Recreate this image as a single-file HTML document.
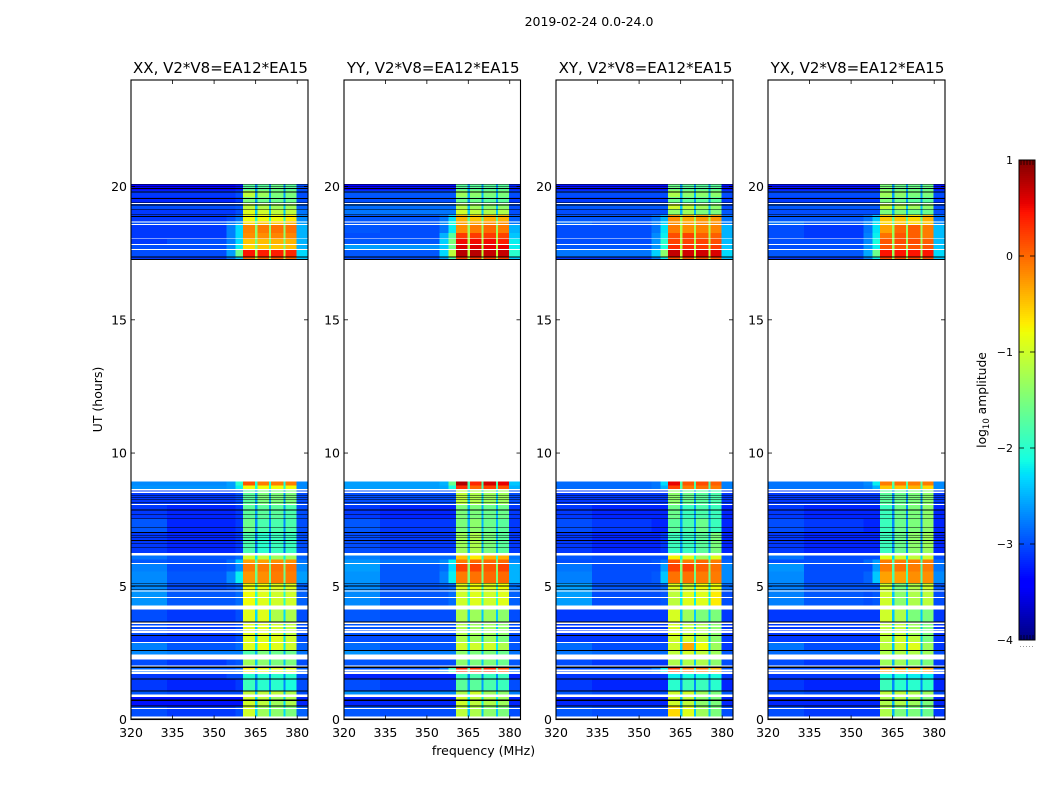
<!DOCTYPE html>
<html>
<head>
<meta charset="utf-8">
<title>2019-02-24 0.0-24.0</title>
<style>
html,body{margin:0;padding:0;background:#fff;}
svg{display:block;}
text{font-family:"DejaVu Sans","Liberation Sans",sans-serif;fill:#000;}
</style>
</head>
<body>
<svg id="figure-root" xmlns="http://www.w3.org/2000/svg" width="1050" height="800" viewBox="0 0 1050 800">
<rect x="0" y="0" width="1050" height="800" fill="#fff"/>
<text x="589" y="26" text-anchor="middle" font-size="12.5">2019-02-24 0.0-24.0</text>
<text x="483.5" y="755" text-anchor="middle" font-size="12.5">frequency (MHz)</text>
<text transform="translate(102,399.5) rotate(-90)" text-anchor="middle" font-size="12.5">UT (hours)</text>
<text transform="translate(986,400) rotate(-90)" text-anchor="middle" font-size="12.3">log<tspan font-size="8.5" dy="3">10</tspan><tspan dy="-3"> amplitude</tspan></text>
</svg>
<script>
const panelNames = ['XX','YY','XY','YX'];
const panelLefts = [131,344,556,768];
const panelRights = [308,520.5,733,945];
const titleSuffix = ', V2*V8=EA12*EA15';
const xTicks = [320,335,350,365,380];
const yTicks = [0,5,10,15,20];
const colorbarTickValues = [1,0,-1,-2,-3,-4];
const colorbarTickLabels = ['1','0','−1','−2','−3','−4'];

/* frequency column edges in MHz */
const colEdges = [320,333,354.5,357.8,360.5,364.8,365.7,369.8,370.5,375,375.8,379.8,383.9];
/* which level field each column uses: lowA lowB rampA rampB b1 gap b2 gap b3 gap b4 edge */
const colField = [0,1,2,3,4,9,5,9,6,9,7,8];

/* time bins in hours, [top, bottom] */
const timeBins = [
[20.10,19.85],[19.85,19.60],[19.60,19.40],[19.40,19.15],[19.15,18.95],[18.95,18.70],[18.70,18.56],
[18.56,18.25],[18.25,18.05],[18.05,17.82],[17.82,17.64],[17.64,17.36],[17.36,17.26],
[8.93,8.78],[8.78,8.65],[8.65,8.09],[8.09,7.55],[7.55,7.0],[7.0,6.25],[6.16,6.0],[6.0,5.85],
[5.85,5.55],[5.55,5.1],[5.1,4.8],[4.8,4.28],[4.13,3.68],[3.68,3.15],[3.15,2.87],[2.87,2.6],
[2.6,2.44],[2.25,2.0],[2.0,1.72],[1.72,1.52],[1.52,1.08],[1.08,0.93],[0.84,0.5],[0.5,0.115]
];

/* log10 amplitude, one row per time bin:
   lowA,lowB,rampA,rampB,block1,block2,block3,block4,edge,gap */
const levelsXX = [
[-3.4,-3.4,-3.4,-3.3,-1.7,-1.7,-1.6,-1.7,-3.0,-2.7],
[-3.1,-3.1,-3.1,-3.0,-1.1,-1.3,-1.5,-1.5,-3.0,-2.6],
[-3.2,-3.2,-3.2,-3.1,-1.5,-1.6,-1.6,-1.6,-3.0,-2.6],
[-3.0,-3.0,-3.0,-2.95,-1.1,-1.2,-1.3,-1.3,-2.9,-2.4],
[-3.1,-3.1,-3.1,-3.0,-0.9,-1.0,-1.1,-1.1,-2.8,-2.4],
[-3.1,-3.1,-3.0,-2.8,-0.8,-0.8,-0.8,-0.7,-2.7,-2.0],
[-3.0,-3.0,-2.8,-2.6,-0.6,-0.5,-0.5,-0.4,-2.6,-1.7],
[-3.1,-3.1,-2.75,-2.3,-0.15,-0.1,-0.05,-0.05,-2.5,-1.4],
[-3.1,-3.1,-2.75,-2.3,-0.2,-0.2,-0.15,-0.15,-2.5,-1.4],
[-3.1,-3.0,-2.75,-2.3,-0.5,-0.45,-0.4,-0.4,-2.5,-1.5],
[-3.0,-3.0,-2.7,-2.2,-0.6,-0.5,-0.5,-0.45,-2.5,-1.5],
[-3.0,-3.0,-2.6,-1.6,0.45,0.4,0.4,0.35,-2.3,-1.2],
[-3.1,-3.1,-2.8,-2.4,0,0,0.05,0,-2.4,-1.2],
[-2.7,-2.7,-2.6,-2.0,0.1,-0.1,-0.1,-0.1,-2.7,-2.1],
[-2.65,-2.65,-2.6,-2.2,-0.8,-0.8,-0.8,-0.8,-2.7,-2.1],
[-3.1,-3.1,-3.1,-3.0,-1.7,-1.5,-1.5,-1.5,-3.0,-2.6],
[-3.1,-3.2,-3.2,-3.1,-1.7,-1.7,-1.7,-1.8,-3.0,-2.6],
[-2.95,-3.2,-3.2,-3.1,-1.6,-1.8,-1.8,-1.8,-3.0,-2.7],
[-3.1,-3.2,-3.2,-3.1,-1.8,-2.0,-1.9,-1.9,-3.0,-2.8],
[-2.8,-2.95,-2.95,-2.85,-1.0,-1.1,-1.3,-1.3,-2.9,-2.2],
[-2.95,-3.0,-2.85,-2.4,-0.3,-0.3,-0.2,-0.2,-2.8,-1.7],
[-2.75,-3.0,-2.95,-2.7,-0.1,-0.1,-0.05,-0.05,-2.7,-1.5],
[-2.7,-2.95,-2.7,-2.2,-0.25,-0.2,-0.1,-0.1,-2.6,-1.6],
[-2.7,-3.0,-2.95,-2.85,-0.8,-0.8,-0.9,-0.9,-2.9,-2.0],
[-2.65,-2.95,-2.95,-2.85,-0.8,-0.9,-1.0,-1.0,-2.9,-2.0],
[-3.0,-3.1,-3.1,-3.0,-0.9,-0.9,-1.2,-1.2,-3.0,-2.3],
[-3.0,-3.1,-3.1,-3.0,-0.9,-0.9,-1.0,-1.1,-3.0,-2.3],
[-3.1,-3.1,-3.1,-3.0,-0.9,-0.9,-0.9,-1.0,-3.0,-2.3],
[-2.75,-2.95,-2.95,-2.85,-0.9,-0.8,-0.9,-1.0,-2.9,-2.2],
[-2.7,-2.75,-2.75,-2.75,-1.8,-1.5,-1.6,-1.6,-2.8,-2.5],
[-3.0,-3.1,-3.0,-2.95,-1.3,-1.4,-1.5,-1.5,-3.0,-2.4],
[-2.85,-2.95,-2.95,-2.85,-0.7,-0.8,-0.9,-0.9,-2.9,-2.2],
[-3.1,-3.1,-3.0,-3.0,-2.0,-2.0,-2.0,-2.0,-3.0,-2.7],
[-3.1,-3.2,-3.2,-3.1,-1.9,-2.0,-2.0,-2.1,-3.0,-2.7],
[-2.95,-3.0,-3.0,-3.0,-1.1,-1.1,-1.1,-1.2,-3.0,-2.4],
[-3.3,-3.3,-3.3,-3.3,-1.0,-1.1,-1.3,-1.2,-3.2,-2.3],
[-3.0,-3.1,-3.1,-3.0,-1.0,-1.3,-1.4,-1.5,-2.9,-2.3]
];
const levelsYY = [
[-3.4,-3.3,-3.3,-3.3,-1.7,-1.7,-1.7,-1.7,-3.2,-2.6],
[-2.95,-2.95,-2.95,-2.95,-1.3,-1.4,-1.5,-1.5,-3.0,-2.5],
[-3.0,-3.0,-3.0,-3.0,-1.6,-1.6,-1.7,-1.7,-3.1,-2.6],
[-2.85,-2.85,-2.85,-2.85,-1.2,-1.3,-1.4,-1.4,-3.0,-2.4],
[-2.8,-2.8,-2.8,-2.8,-1.0,-1.1,-1.2,-1.2,-3.0,-2.4],
[-2.95,-2.95,-2.8,-2.3,-0.4,-0.5,-0.4,-0.4,-2.9,-1.7],
[-2.95,-2.95,-2.7,-2.1,-0.3,-0.3,-0.2,-0.2,-2.8,-1.4],
[-2.95,-3.0,-2.8,-2.2,-0.2,-0.1,0,-0.1,-2.5,-1.3],
[-3.0,-3.0,-2.5,-1.7,0.25,0.25,0.25,0.2,-2.4,-1.2],
[-2.95,-2.95,-2.35,-1.5,0.5,0.5,0.5,0.4,-2.2,-1.2],
[-2.6,-2.65,-2.4,-1.6,0.6,0.6,0.55,0.55,-2.2,-1.2],
[-2.95,-2.95,-2.3,-1.1,0.75,0.75,0.7,0.7,-2.0,-1.1],
[-3.0,-3.0,-2.6,-1.8,0.2,0.2,0.2,0.2,-2.4,-1.2],
[-2.6,-2.6,-2.5,-1.6,0.8,0.35,0.65,0.55,-2.4,-1.8],
[-2.6,-2.6,-2.55,-2.1,0.3,0,0.2,0.1,-2.5,-1.9],
[-3.0,-3.0,-3.0,-3.0,-1.1,-1.2,-1.3,-1.3,-3.0,-2.4],
[-3.1,-3.2,-3.2,-3.2,-1.5,-1.5,-1.6,-1.6,-3.1,-2.5],
[-2.95,-3.1,-3.1,-3.1,-1.5,-1.4,-1.6,-1.7,-3.1,-2.5],
[-3.0,-3.1,-3.1,-3.1,-1.3,-1.2,-1.5,-1.7,-3.1,-2.5],
[-2.75,-2.85,-2.85,-2.85,-0.5,-0.7,-0.4,-0.4,-2.8,-2.0],
[-2.65,-2.8,-2.7,-2.2,-0.1,0,0,0,-2.7,-1.5],
[-2.6,-2.95,-2.85,-2.3,0.2,0.2,0.1,0.2,-2.5,-1.4],
[-2.65,-2.95,-2.75,-2.2,-0.1,-0.05,0,0,-2.5,-1.5],
[-2.7,-2.95,-2.9,-2.85,-0.9,-0.8,-0.9,-0.8,-2.8,-2.0],
[-2.7,-2.95,-2.95,-2.85,-1.0,-0.9,-1.0,-0.9,-2.9,-2.0],
[-2.95,-3.0,-3.0,-3.0,-1.2,-1.3,-1.3,-1.4,-3.0,-2.4],
[-2.95,-3.0,-3.0,-3.0,-1.2,-1.3,-1.3,-1.4,-3.0,-2.4],
[-3.0,-3.0,-3.0,-3.0,-1.2,-1.3,-1.3,-1.5,-3.0,-2.4],
[-2.85,-2.95,-2.95,-2.95,-1.0,-1.0,-1.0,-1.2,-2.95,-2.2],
[-2.65,-2.75,-2.75,-2.75,-1.4,-1.5,-1.5,-1.6,-2.8,-2.4],
[-2.95,-3.0,-3.0,-3.0,-1.4,-1.5,-1.5,-1.6,-2.95,-2.4],
[-2.95,-3.0,-2.8,-1.9,0.3,0.25,0.3,0.1,-2.85,-1.7],
[-3.2,-3.2,-3.2,-3.2,-1.9,-1.8,-1.9,-1.9,-3.2,-2.7],
[-3.0,-3.1,-3.1,-3.1,-1.7,-1.7,-1.8,-1.9,-3.0,-2.6],
[-2.65,-2.7,-2.7,-2.7,-1.2,-1.0,-1.3,-1.4,-2.75,-2.2],
[-3.2,-3.2,-3.2,-3.2,-1.0,-1.1,-1.2,-1.3,-3.2,-2.2],
[-2.95,-3.0,-3.0,-3.0,-1.1,-1.2,-1.4,-1.5,-3.0,-2.4]
];
const levelsXY = [
[-3.3,-3.3,-3.3,-3.3,-1.6,-1.7,-1.7,-1.7,-3.3,-2.6],
[-3.0,-3.0,-3.0,-3.0,-1.2,-1.4,-1.4,-1.4,-3.0,-2.5],
[-3.1,-3.1,-3.1,-3.1,-1.6,-1.7,-1.7,-1.7,-3.1,-2.6],
[-2.95,-2.95,-2.95,-2.95,-1.0,-1.1,-1.3,-1.4,-3.0,-2.4],
[-3.0,-3.0,-3.0,-3.0,-1.4,-1.3,-1.5,-1.5,-2.95,-2.5],
[-2.95,-2.95,-2.8,-2.5,-0.2,-0.35,-0.25,-0.25,-2.8,-1.3],
[-2.85,-2.95,-2.75,-2.35,-0.2,-0.3,-0.2,-0.2,-2.75,-1.2],
[-3.0,-3.0,-2.8,-2.25,-0.1,-0.2,-0.15,-0.15,-2.5,-1.2],
[-3.0,-3.0,-2.7,-2.2,0.15,0.2,0.05,0.05,-2.5,-1.2],
[-3.0,-3.0,-2.65,-2.0,0.2,0.2,0.2,0.15,-2.45,-1.2],
[-2.95,-2.95,-2.65,-2.1,0.3,0.3,0.25,0.25,-2.4,-1.2],
[-2.8,-2.8,-2.35,-1.4,0.7,0.65,0.65,0.6,-2.3,-1.1],
[-3.1,-3.1,-2.8,-2.2,0.1,0.1,0.1,0.1,-2.45,-1.1],
[-2.85,-2.85,-2.8,-2.3,0.55,0.1,0.15,0.05,-2.75,-1.8],
[-2.85,-2.85,-2.8,-2.5,0.2,-0.1,-0.05,-0.1,-2.75,-1.8],
[-3.1,-3.1,-3.1,-3.1,-1.4,-1.6,-1.7,-1.8,-3.1,-2.6],
[-3.1,-3.2,-3.2,-3.2,-1.6,-1.9,-1.8,-1.9,-3.2,-2.6],
[-3.0,-3.1,-3.2,-3.2,-1.7,-1.8,-1.6,-1.9,-3.2,-2.6],
[-3.1,-3.2,-3.2,-3.1,-1.9,-1.9,-1.7,-1.5,-3.2,-2.6],
[-2.95,-3.0,-3.0,-3.0,-0.75,-0.9,-1.3,-0.9,-2.95,-2.1],
[-3.0,-3.0,-2.95,-2.8,0.1,-0.1,0,-0.1,-2.9,-1.6],
[-2.8,-3.0,-3.0,-2.6,0.2,0.2,0.05,-0.05,-2.7,-1.4],
[-2.75,-3.0,-2.95,-2.4,-0.05,-0.05,-0.1,-0.1,-2.7,-1.6],
[-2.6,-2.95,-2.95,-2.85,-0.9,-1.0,-0.8,-0.8,-2.85,-2.2],
[-2.6,-3.0,-3.0,-2.95,-1.1,-0.9,-0.9,-0.7,-3.0,-2.2],
[-3.1,-3.1,-3.1,-3.1,-0.95,-1.3,-1.5,-1.5,-3.1,-2.4],
[-3.1,-3.1,-3.1,-3.1,-0.95,-1.1,-1.2,-1.4,-3.1,-2.4],
[-3.1,-3.1,-3.1,-3.1,-1.0,-1.0,-1.1,-1.4,-3.1,-2.4],
[-2.85,-3.0,-3.0,-3.0,-1.0,-0.35,-0.8,-1.3,-3.1,-2.3],
[-2.8,-2.85,-2.85,-2.85,-1.1,-1.0,-1.1,-1.3,-2.95,-2.4],
[-3.0,-3.1,-3.1,-3.1,-1.2,-1.2,-1.2,-1.4,-3.0,-2.4],
[-3.0,-3.0,-2.8,-2.2,0.2,-0.1,-0.1,-0.4,-2.95,-1.9],
[-3.1,-3.1,-3.1,-3.1,-2.2,-2.1,-2.1,-2.1,-3.1,-2.7],
[-3.1,-3.2,-3.2,-3.2,-2.0,-1.9,-1.9,-2.0,-3.2,-2.7],
[-2.95,-3.0,-3.0,-3.0,-1.0,-1.0,-1.3,-1.5,-2.95,-2.4],
[-3.2,-3.2,-3.2,-3.2,-1.0,-1.1,-1.4,-1.5,-3.2,-2.4],
[-2.95,-3.0,-3.0,-3.0,-0.6,-0.9,-1.3,-1.5,-3.0,-2.4]
];
const levelsYX = [
[-3.3,-3.3,-3.3,-3.3,-1.5,-1.6,-1.6,-1.6,-3.3,-2.6],
[-3.0,-3.0,-3.0,-3.0,-1.3,-1.4,-1.5,-1.5,-3.0,-2.6],
[-3.1,-3.1,-3.1,-3.1,-1.5,-1.6,-1.7,-1.7,-3.1,-2.6],
[-2.95,-2.95,-2.95,-2.95,-1.1,-1.2,-1.3,-1.4,-3.0,-2.4],
[-3.0,-3.0,-3.0,-3.0,-1.5,-1.5,-1.6,-1.6,-3.0,-2.5],
[-2.95,-2.95,-2.8,-2.4,-0.5,-0.5,-0.6,-0.4,-2.8,-1.7],
[-2.8,-2.95,-2.7,-2.25,-0.6,-0.5,-0.6,-0.5,-2.7,-1.7],
[-3.0,-3.1,-2.8,-2.25,-0.3,0,0.05,-0.1,-2.45,-1.3],
[-3.0,-3.1,-2.75,-2.2,-0.05,0.1,0.05,-0.1,-2.45,-1.3],
[-3.0,-3.0,-2.7,-2.1,0.1,0.15,0.15,0.05,-2.45,-1.3],
[-3.0,-3.0,-2.65,-2.2,0.1,0.1,0.1,0.1,-2.4,-1.3],
[-2.95,-2.95,-2.55,-1.6,0.45,0.45,0.45,0.45,-2.3,-1.3],
[-3.1,-3.1,-2.75,-2.2,0.15,0.15,0.15,0.15,-2.4,-1.3],
[-2.8,-2.8,-2.7,-2.2,-0.1,-0.05,-0.1,-0.1,-2.7,-1.7],
[-2.8,-2.8,-2.75,-2.5,-0.5,-0.5,-0.4,-0.6,-2.7,-1.9],
[-3.1,-3.1,-3.1,-3.1,-1.7,-1.6,-1.5,-1.4,-3.1,-2.7],
[-3.1,-3.2,-3.2,-3.2,-1.9,-1.6,-1.5,-1.4,-3.2,-2.7],
[-3.0,-3.1,-3.2,-3.2,-1.9,-1.6,-1.5,-1.4,-3.2,-2.7],
[-3.1,-3.2,-3.2,-3.2,-1.9,-1.6,-1.4,-1.3,-3.2,-2.7],
[-2.8,-3.0,-3.0,-3.0,-0.9,-1.0,-1.1,-1.0,-3.0,-2.3],
[-3.0,-3.0,-2.85,-2.6,-0.1,-0.1,-0.1,-0.1,-2.85,-1.8],
[-2.65,-3.0,-3.0,-2.6,-0.1,-0.05,-0.1,-0.1,-2.8,-1.8],
[-2.7,-3.0,-2.9,-2.4,-0.3,-0.3,-0.2,-0.2,-2.7,-1.8],
[-2.75,-2.95,-2.95,-2.95,-1.0,-1.5,-1.2,-1.0,-2.95,-2.4],
[-2.75,-2.95,-3.0,-2.95,-1.0,-1.4,-1.2,-1.1,-3.0,-2.4],
[-3.1,-3.1,-3.1,-3.1,-1.0,-1.2,-1.5,-1.5,-3.1,-2.4],
[-3.1,-3.1,-3.1,-3.1,-1.1,-1.1,-1.3,-1.5,-3.1,-2.4],
[-3.1,-3.1,-3.1,-3.1,-1.1,-1.0,-1.1,-1.5,-3.1,-2.4],
[-2.8,-3.0,-3.0,-3.0,-1.1,-1.0,-0.9,-1.3,-3.1,-2.4],
[-2.85,-2.85,-2.85,-2.85,-1.2,-1.2,-1.2,-1.3,-3.0,-2.4],
[-3.0,-3.1,-3.1,-3.1,-1.3,-1.3,-1.4,-1.5,-3.1,-2.5],
[-3.0,-3.0,-3.0,-3.0,-0.3,-0.3,-0.3,-0.3,-3.0,-2.1],
[-3.1,-3.1,-3.1,-3.1,-2.1,-2.1,-2.2,-2.2,-3.1,-2.7],
[-3.1,-3.2,-3.2,-3.2,-1.9,-2.0,-2.0,-2.0,-3.2,-2.7],
[-2.95,-3.0,-3.0,-3.0,-1.1,-1.1,-1.2,-1.3,-3.0,-2.5],
[-3.2,-3.2,-3.2,-3.2,-1.2,-1.2,-1.3,-1.5,-3.2,-2.5],
[-3.0,-3.1,-3.1,-3.1,-1.2,-1.5,-1.5,-1.6,-3.1,-2.5]
];

/* time ranges with no data (white) and flagged rows (black), hours */
const blankRows = [
[19.375,19.34],[18.69,18.65],[18.60,18.56],[18.06,18.04],[17.85,17.81],[17.65,17.62],
[8.656,8.594],[8.556,8.506],[8.09,8.056],[6.256,6.156],[5.87,5.83],[4.845,4.806],[4.594,4.556],
[4.28,4.13],[3.64,3.59],[3.55,3.53],[3.50,3.465],[3.40,3.34],[3.315,3.25],[2.90,2.865],
[2.44,2.25],[2.03,1.99],[1.88,1.80],[1.78,1.715],[0.93,0.84],[0.44,0.40],[0.115,0.065]
];
const flaggedRows = [
[20.10,20.075],[20.025,20.0],[19.95,19.90],[19.81,19.775],[19.575,19.54],[19.41,19.375],[19.325,19.29],
[19.16,19.14],[18.96,18.925],[18.90,18.86],[17.375,17.34],[17.275,17.25],
[8.406,8.38],[8.34,8.32],[8.256,8.23],[8.17,8.15],[7.88,7.84],[7.72,7.69],[7.54,7.52],[7.206,7.18],
[7.03,7.0],[6.906,6.88],[6.83,6.806],[6.74,6.706],[6.63,6.606],[6.456,6.43],
[5.13,5.106],[5.03,4.99],[4.906,4.87],
[3.68,3.64],[3.18,3.14],[2.60,2.565],[1.99,1.93],[1.54,1.50],[1.09,1.05],[0.75,0.70],
[0.53,0.49],[0.065,0.04]
];
const panelLevels = [levelsXX,levelsYY,levelsXY,levelsYX];

const SVGNS = 'http://www.w3.org/2000/svg';
const figureRoot = document.getElementById('figure-root');
const axTop = 80, axBottom = 719.5, yMax = 24, xMin = 320, xMax = 383.9;
const barLeft = 1019, barRight = 1035, barTop = 160, barBottom = 640, vMin = -4, vMax = 1;

function yScale(h){ return axBottom - (h / yMax) * (axBottom - axTop); }
function xScale(f, i){ return panelLefts[i] + ((f - xMin) / (xMax - xMin)) * (panelRights[i] - panelLefts[i]); }
function barScale(v){ return barBottom - ((v - vMin) / (vMax - vMin)) * (barBottom - barTop); }
function jetPart(t){ return Math.round(255 * Math.max(0, Math.min(1, t))); }
function jet(v){
  const f = (v - vMin) / (vMax - vMin);
  const r = f < 0.35 ? 0 : f < 0.66 ? (f - 0.35) / 0.31 : f < 0.89 ? 1 : 1 - (f - 0.89) / 0.11 * 0.5;
  const g = f < 0.125 ? 0 : f < 0.375 ? (f - 0.125) / 0.25 : f < 0.64 ? 1 : f < 0.91 ? 1 - (f - 0.64) / 0.27 : 0;
  const b = f < 0.11 ? 0.5 + f / 0.11 * 0.5 : f < 0.34 ? 1 : f < 0.65 ? 1 - (f - 0.34) / 0.31 : 0;
  return 'rgb(' + jetPart(r) + ',' + jetPart(g) + ',' + jetPart(b) + ')';
}
function make(tag, parent, attrs){
  const el = document.createElementNS(SVGNS, tag);
  for (const k in attrs) el.setAttribute(k, attrs[k]);
  parent.appendChild(el);
  return el;
}
function band(parent, i, hTop, hBottom, color){
  return make('rect', parent, {x: panelLefts[i], y: yScale(hTop), width: panelRights[i] - panelLefts[i], height: yScale(hBottom) - yScale(hTop), fill: color, 'shape-rendering': 'crispEdges'});
}

panelNames.forEach(function(name, i){
  const g = make('g', figureRoot, {});
  
  
  const L = panelLefts[i], R = panelRights[i];

  const panelTitle = make('text', g, {x: (L + R) / 2 + 1, y: 73, 'text-anchor': 'middle', 'font-size': '15'});
  panelTitle.textContent = name + titleSuffix;
  
  

  panelLevels[i].forEach(function(row, r){
    const bin = timeBins[r];
    colField.forEach(function(field, c){
      const x0 = xScale(colEdges[c], i), x1 = xScale(colEdges[c + 1], i);
      const cell = make('rect', g, {x: x0, y: yScale(bin[0]), width: x1 - x0, height: yScale(bin[1]) - yScale(bin[0]), fill: jet(row[field]), 'shape-rendering': 'crispEdges'});
      
      
    });
  });

  blankRows.forEach(function(b){
    const el = band(g, i, b[0], b[1], '#fff');
    
    
  });
  flaggedRows.forEach(function(b){
    const el = band(g, i, b[0], b[1], '#000');
    
    
  });

  const frame = make('rect', g, {x: L, y: axTop, width: R - L, height: axBottom - axTop, fill: 'none', stroke: '#000', 'stroke-width': 1.1});
  
  

  xTicks.forEach(function(t){
    const x = xScale(t, i);
    const a = make('line', g, {x1: x, x2: x, y1: axBottom, y2: axBottom - 4, stroke: '#000', 'stroke-width': 0.8});
    
    
    const b = make('line', g, {x1: x, x2: x, y1: axTop, y2: axTop + 4, stroke: '#000', 'stroke-width': 0.8});
    
    
    const lab = make('text', g, {x: x, y: 737, 'text-anchor': 'middle', 'font-size': '12.5'});
    lab.textContent = t;
    
    
  });
  yTicks.forEach(function(t){
    const y = yScale(t);
    const a = make('line', g, {x1: L, x2: L + 4, y1: y, y2: y, stroke: '#000', 'stroke-width': 0.8});
    
    
    const b = make('line', g, {x1: R, x2: R - 4, y1: y, y2: y, stroke: '#000', 'stroke-width': 0.8});
    
    
    const lab = make('text', g, {x: L - 4, y: y + 4.5, 'text-anchor': 'end', 'font-size': '12.5'});
    lab.textContent = t;
    
    
  });
});
</script>
<script>
const barGroup = make('g', figureRoot, {});


for (let p = barTop; p < barBottom; p += 2){
  const stepValue = vMax - ((p - barTop + 1) / (barBottom - barTop)) * (vMax - vMin);
  const step = make('rect', barGroup, {x: barLeft, y: p, width: barRight - barLeft, height: 2, fill: jet(stepValue), 'shape-rendering': 'crispEdges'});
  
  
}
const barFrame = make('rect', barGroup, {x: barLeft, y: barTop, width: barRight - barLeft, height: barBottom - barTop, fill: 'none', stroke: '#000', 'stroke-width': 1});


for (let n = 0; n < colorbarTickValues.length; n++){
  const tickY = barScale(colorbarTickValues[n]);
  const tickLeft = make('line', barGroup, {x1: barLeft, x2: barLeft + 5, y1: tickY, y2: tickY, stroke: '#000', 'stroke-width': 0.8});
  
  
  const tickRight = make('line', barGroup, {x1: barRight, x2: barRight - 5, y1: tickY, y2: tickY, stroke: '#000', 'stroke-width': 0.8});
  
  
  const tickLabel = make('text', barGroup, {x: 1013, y: tickY + 4, 'text-anchor': 'end', 'font-size': '11'});
  tickLabel.textContent = colorbarTickLabels[n];
  
  
}
for (let tx = barLeft + 2; tx < barRight; tx += 3){
  const endTop = make('line', barGroup, {x1: tx, x2: tx, y1: barTop, y2: barTop + 5, stroke: '#000', 'stroke-width': 0.7});
  
  
  const endBottom = make('line', barGroup, {x1: tx, x2: tx, y1: barBottom, y2: barBottom - 5, stroke: '#000', 'stroke-width': 0.7});
  
  
  const dot = make('rect', barGroup, {x: tx - 1, y: 646, width: 1, height: 1, fill: '#999'});
  
  
}
</script>
</body>
</html>
